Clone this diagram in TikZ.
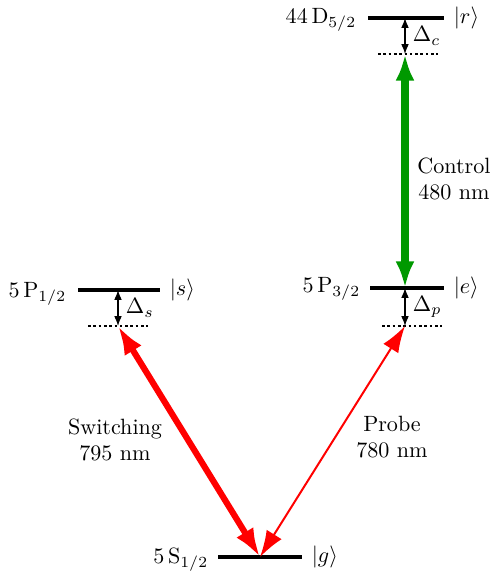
\documentclass[tikz,border=0pt]{standalone}
\usepackage{amsmath}
\usetikzlibrary{calc}
\usetikzlibrary{arrows.meta}

\begin{document}
\begin{tikzpicture}[x=0.0159cm, y=-0.0159cm,
    level/.style={line width=2pt},
    virt/.style={dash pattern=on 1.2pt off 1.2pt, line width=0.5pt},
    detuning/.style={line width=0.5pt, {Latex[length=4.5pt,width=3.5pt]}-{Latex[length=4.5pt,width=3.5pt]}}]
    \useasboundingbox (0,0) rectangle (494,581);

    % levels
    \coordinate (gL) at (218,557); \coordinate (gR) at (302,557); \coordinate (g) at (260,557);
    \coordinate (sL) at (78,290);  \coordinate (sR) at (160,290); \coordinate (s) at (118,290);
    \coordinate (eL) at (370,288); \coordinate (eR) at (444,288); \coordinate (e) at (405,288);
    \coordinate (rL) at (368,18);  \coordinate (rR) at (444,18);  \coordinate (r) at (405,18);
    \draw[level] (gL) -- (gR);
    \draw[level] (sL) -- (sR);
    \draw[level] (eL) -- (eR);
    \draw[level] (rL) -- (rR);

    \node[left] (gname) at ($(gL)+(-2,3)$) {$5\,\mathrm{S}_{1/2}$};
    \node[left] (sname) at ($(sL)+(-4,4)$) {$5\,\mathrm{P}_{1/2}$};
    \node[left] (ename) at ($(eL)+(-2,1)$) {$5\,\mathrm{P}_{3/2}$};
    \node[left] (rname) at ($(rL)+(-4,2)$) {$44\,\mathrm{D}_{5/2}$};
    \node[right] (gket) at ($(gR)+(2,0)$) {$|g\rangle$};
    \node[right] (sket) at ($(sR)+(2,0)$) {$|s\rangle$};
    \node[right] (eket) at ($(eR)+(2,0)$) {$|e\rangle$};
    \node[right] (rket) at ($(rR)+(2,0)$) {$|r\rangle$};

    % virtual levels
    \coordinate (sv) at (118,326); \coordinate (ev) at (405,326); \coordinate (rv) at (405,54);
    \draw[virt] (88,326) -- (148,326);
    \draw[virt] (382,326) -- (442,326);
    \draw[virt] (378,54) -- (438,54);
    \draw[detuning] (s) -- node[right] (ds) {$\Delta_s$} (sv);
    \draw[detuning] (e) -- node[right] (dp) {$\Delta_p$} (ev);
    \draw[detuning] (r) -- node[right] (dc) {$\Delta_c$} (rv);

    % lasers
    \draw[red, line width=2.8pt, {Latex[length=13pt,width=9pt]}-{Latex[length=13pt,width=9pt]}] (sv) -- (g);
    \draw[red, line width=0.9pt, {Latex[length=12pt,width=8pt]}-{Latex[length=12pt,width=8pt]}] (ev) -- (g);
    \draw[green!60!black, line width=3.8pt, {Latex[length=12pt,width=8.5pt]}-{Latex[length=12pt,width=8.5pt]}] (e) -- (rv);

    \node[align=center] (switching) at (115,440) {Switching\\795 nm};
    \node[align=center] (probe) at (392,437) {Probe\\780 nm};
    \node[align=center] (control) at (454,179) {Control\\480 nm};
\end{tikzpicture}
\end{document}
